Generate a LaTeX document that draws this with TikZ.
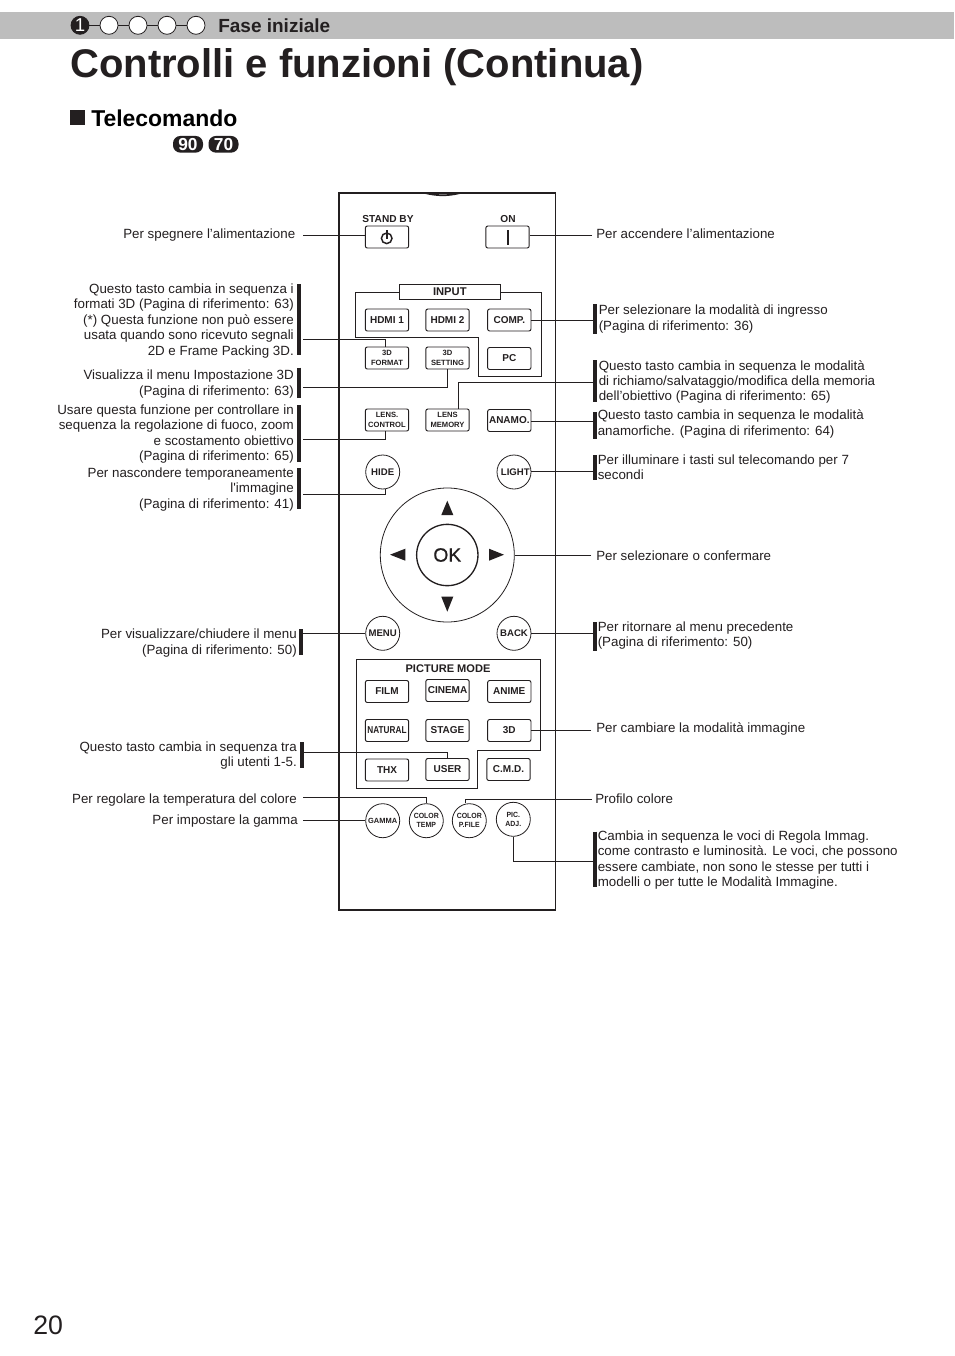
\documentclass[tikz,border=0pt]{standalone}
\usepackage{xcolor}
\usepackage{fontspec}
\setmainfont{Liberation Sans}
\usetikzlibrary{arrows.meta}
\definecolor{jvink}{HTML}{231F20}
\definecolor{jvband}{HTML}{BDBDBD}
\newcommand{\rk}[1]{\makebox[0pt]{#1}}
\newcommand{\rkk}[2]{\makebox[0pt]{\scalebox{.93}[1]{\shortstack{#1\\#2}}}}

\begin{document}
\begin{tikzpicture}[x=0.75pt,y=-0.75pt,
    every node/.style={text=jvink,inner sep=0pt},
    leftnote/.style={anchor=east,align=right,font=\fontsize{10}{11.6}\selectfont},
    rightnote/.style={anchor=west,align=left,font=\fontsize{10}{11.4}\selectfont},
    keybtn/.style={draw=jvink,fill=white,line width=0.7pt,rounded corners=1.5pt,minimum width=32.5pt,minimum height=16.5pt,align=center,font=\fontsize{7.5}{8}\selectfont\bfseries},
    keysmall/.style={keybtn,font=\fontsize{5.7}{7.5}\selectfont\bfseries},
    roundkey/.style={draw=jvink,fill=white,line width=0.6pt,circle,minimum size=25.5pt,font=\fontsize{7.2}{8}\selectfont\bfseries},
    roundsmall/.style={roundkey,font=\fontsize{5.6}{5.8}\selectfont\bfseries},
    stepdot/.style={draw=jvink,fill=white,line width=0.6pt,circle,minimum size=13.5pt},
    pill/.style={fill=jvink,text=white,rounded corners=5.5pt,minimum width=22.5pt,minimum height=12.5pt,font=\fontsize{13}{13}\selectfont\bfseries},
    wire/.style={draw=jvink,line width=0.75pt},
    tagbar/.style={draw=jvink,line width=3pt}]
  \useasboundingbox (0,0) rectangle (954,1356);
  \fill[white] (0,0) rectangle (954,1356);
  % page header
  \fill[jvband] (0,12) rectangle (954,39);
  \draw[wire] (80,25.3) -- (196,25.3);
  \node[stepdot,fill=jvink,text=white,font=\fontsize{14}{14}\selectfont] (st1) at (80,25.3) {1};
  \node[stepdot] (st2) at (109,25.3) {};
  \node[stepdot] (st3) at (138,25.3) {};
  \node[stepdot] (st4) at (167,25.3) {};
  \node[stepdot] (st5) at (196,25.3) {};
  \node[anchor=west,font=\fontsize{14.25}{15}\selectfont\bfseries] (tStep) at (218,25.5) {Fase iniziale};
  \node[anchor=west,font=\fontsize{30}{32}\selectfont\bfseries] (tTitle) at (70,67.5) {Controlli e funzioni (Continua)};
  \fill[jvink] (70,110) rectangle (85,125);
  \node[anchor=west,font=\fontsize{17.2}{20}\selectfont\bfseries,text=black] (tSub) at (91,118) {Telecomando};
  \node[pill] (p90) at (188,144.3) {90};
  \node[pill] (p70) at (223.5,144.3) {70};
  \node[anchor=west,font=\fontsize{20}{22}\selectfont] (tPage) at (33,1325) {20};

  % remote body
  \draw[draw=jvink,line width=1.1pt] (339,193) rectangle (555.5,910);
  \draw[draw=jvink,line width=1.3pt] (425,193) .. controls (438,196) and (448,196) .. (460,193);

  % input group
  \draw[wire] (355.3,292.3) -- (541.3,292.3) -- (541.3,376.3) -- (478.7,376.3) -- (478.7,337.7) -- (355.3,337.7) -- cycle;
  \node[draw=jvink,fill=white,line width=0.75pt,minimum width=76pt,minimum height=11.5pt,font=\fontsize{8.4}{8}\selectfont\bfseries] (inputLbl) at (449.8,292) {INPUT};

  % picture mode group
  \draw[wire] (356.3,659.3) -- (540.3,659.3) -- (540.3,750.7) -- (477.3,750.7) -- (477.3,788) -- (356.3,788) -- cycle;
  \node[font=\fontsize{8.3}{8}\selectfont\bfseries] (pmLbl) at (448,668.5) {PICTURE MODE};

  % keys
  \node[font=\fontsize{7.6}{8}\selectfont\bfseries] (lbStand) at (388,219.5) {STAND BY};
  \node[font=\fontsize{7.6}{8}\selectfont\bfseries] (lbOn) at (508,219.5) {ON};
  \node[keybtn] (standby) at (387,237) {};
  \node[keybtn] (onkey) at (507.5,237) {};
  \draw[draw=jvink,line width=1.1pt] (386.7,238.3) circle (5.3);
  \draw[draw=jvink,line width=1.3pt] (386.7,230) -- (386.7,239);
  \draw[draw=jvink,line width=1.3pt] (507.7,230) -- (507.7,245);
  \node[keybtn] (hdmi1) at (387,320) {HDMI 1};
  \node[keybtn] (hdmi2) at (447.5,320) {HDMI 2};
  \node[keybtn] (comp) at (509.3,320) {COMP.};
  \node[keysmall] (fmt3d) at (387,358) {3D\\FORMAT};
  \node[keysmall] (set3d) at (447.5,358) {3D\\SETTING};
  \node[keybtn] (pc) at (509.3,358.5) {PC};
  \node[keysmall] (lenscon) at (387,420) {LENS.\\CONTROL};
  \node[keysmall] (lensmem) at (447.5,420) {LENS\\MEMORY};
  \node[keybtn] (anamo) at (509.3,420.5) {ANAMO.};
  \node[roundkey] (hide) at (382.7,472) {\rk{HIDE}};
  \node[roundkey] (light) at (514,472) {\kern2pt\rk{LIGHT}};

  % direction pad
  \node[draw=jvink,circle,line width=0.6pt,minimum size=100.5pt] (dpad) at (447.3,555) {};
  \node[draw=jvink,circle,line width=1pt,minimum size=46pt,font=\fontsize{14.5}{15}\selectfont\addfontfeature{FakeBold=0.6}] (okkey) at (447.3,555) {OK};
  \fill[jvink] (447.3,500.7) -- (453.3,515) -- (441.3,515) -- cycle;
  \fill[jvink] (447.3,611.7) -- (453.3,596.7) -- (441.3,596.7) -- cycle;
  \fill[jvink] (390,554.7) -- (405.3,548.7) -- (405.3,560.7) -- cycle;
  \fill[jvink] (504,554.7) -- (489,548.7) -- (489,560.7) -- cycle;

  \node[roundkey] (menu) at (382.7,633.3) {\rk{MENU}};
  \node[roundkey] (back) at (514,633.3) {\rk{BACK}};
  \node[keybtn] (film) at (387,691.5) {FILM};
  \node[keybtn] (cinema) at (447.5,690.5) {CINEMA};
  \node[keybtn] (anime) at (509.3,691.5) {ANIME};
  \node[keybtn] (natural) at (387,730.5) {\scalebox{.82}[1]{NATURAL}};
  \node[keybtn] (stage) at (447.5,730.5) {STAGE};
  \node[keybtn] (key3d) at (509.3,730.5) {3D};
  \node[keybtn] (thx) at (387,770) {THX};
  \node[keybtn] (user) at (447.5,769.5) {USER};
  \node[keybtn] (cmd) at (508.5,769.5) {C.M.D.};
  \node[roundsmall] (gamma) at (382.7,820.7) {\rk{GAMMA}};
  \node[roundsmall] (ctemp) at (426.3,820.7) {\rkk{COLOR}{TEMP}};
  \node[roundsmall] (cprof) at (469.3,820.7) {\rkk{COLOR}{P.FILE}};
  \node[roundsmall] (picadj) at (513.3,819.3) {\rkk{PIC.}{ADJ.}};

  % left notes
  \node[leftnote] (nStand) at (295.5,235.5) {Per spegnere l’alimentazione};
  \node[leftnote] (nFmt) at (294,321) {Questo tasto cambia in sequenza i\\formati 3D (Pagina di riferimento: 63)\\(*) Questa funzione non può essere\\usata quando sono ricevuto segnali\\2D e Frame Packing 3D.};
  \node[leftnote] (nSet) at (294,384) {Visualizza il menu Impostazione 3D\\(Pagina di riferimento: 63)};
  \node[leftnote] (nLens) at (294,434) {Usare questa funzione per controllare in\\sequenza la regolazione di fuoco, zoom\\e scostamento obiettivo\\(Pagina di riferimento: 65)};
  \node[leftnote] (nHide) at (294,489.5) {Per nascondere temporaneamente\\l\textquotesingle immagine\\(Pagina di riferimento: 41)};
  \node[leftnote] (nMenu) at (297,643) {Per visualizzare/chiudere il menu\\(Pagina di riferimento: 50)};
  \node[leftnote] (nUser) at (297,755.5) {Questo tasto cambia in sequenza tra\\gli utenti 1-5.};
  \node[leftnote] (nTemp) at (297,800) {Per regolare la temperatura del colore};
  \node[leftnote] (nGamma) at (298,821) {Per impostare la gamma};

  % right notes
  \node[rightnote] (nOn) at (596,234) {Per accendere l’alimentazione};
  \node[rightnote] (nComp) at (598.5,319) {Per selezionare la modalità di ingresso\\(Pagina di riferimento: 36)};
  \node[rightnote] (nMem) at (598.5,382) {Questo tasto cambia in sequenza le modalità\\di richiamo/salvataggio/modifica della memoria\\dell’obiettivo (Pagina di riferimento: 65)};
  \node[rightnote] (nAnamo) at (597.5,424) {Questo tasto cambia in sequenza le modalità\\anamorfiche. (Pagina di riferimento: 64)};
  \node[rightnote] (nLight) at (597.5,467.5) {Per illuminare i tasti sul telecomando per 7\\secondi};
  \node[rightnote] (nPad) at (596,556) {Per selezionare o confermare};
  \node[rightnote] (nBack) at (597.5,635.5) {Per ritornare al menu precedente\\(Pagina di riferimento: 50)};
  \node[rightnote] (nPic) at (596,728.5) {Per cambiare la modalità immagine};
  \node[rightnote] (nProf) at (595,799) {Profilo colore};
  \node[rightnote] (nAdj) at (597.5,860) {Cambia in sequenza le voci di Regola Immag.\\come contrasto e luminosità. Le voci, che possono\\essere cambiate, non sono le stesse per tutti i\\modelli o per tutte le Modalità Immagine.};

  % bars beside the notes
  \draw[tagbar] (299,284.3) -- (299,355);
  \draw[tagbar] (299,367.7) -- (299,397.7);
  \draw[tagbar] (299,405) -- (299,462.3);
  \draw[tagbar] (299,468.3) -- (299,508.7);
  \draw[tagbar] (301,629) -- (301,654.7);
  \draw[tagbar] (301.5,742.3) -- (301.5,767.7);
  \draw[tagbar] (594.5,304.3) -- (594.5,333.7);
  \draw[tagbar] (594.5,360) -- (594.5,401.7);
  \draw[tagbar] (594.5,412.3) -- (594.5,439);
  \draw[tagbar] (594.5,455) -- (594.5,480);
  \draw[tagbar] (594.5,622) -- (594.5,650.7);
  \draw[tagbar] (594.5,831.7) -- (594.5,886.7);

  % free wire ends
  \coordinate (eStand) at (303,235);
  \coordinate (eFmt) at (303,339.3);
  \coordinate (eSet) at (303,387);
  \coordinate (eLens) at (303,439.3);
  \coordinate (eHide) at (303,494.3);
  \coordinate (eMenu) at (303,633.7);
  \coordinate (eUser) at (303,752.3);
  \coordinate (eTemp) at (303,797.3);
  \coordinate (eGamma) at (303,820);
  \coordinate (eOn) at (592,235);
  \coordinate (eComp) at (593,320);
  \coordinate (eMem) at (593,382);
  \coordinate (eAnamo) at (593,421);
  \coordinate (eLight) at (593,471);
  \coordinate (ePad) at (591,555.3);
  \coordinate (eBack) at (593,633.5);
  \coordinate (ePic) at (591,730);
  \coordinate (eProf) at (592,799);
  \coordinate (eAdj) at (593,861);

  % connectors
  \draw[wire] (eStand) -- (eStand -| standby.west);
  \draw[wire] (eFmt) -| ([xshift=-1.5pt]fmt3d.north);
  \draw[wire] (eSet) -| (set3d.south);
  \draw[wire] (eLens) -| ([xshift=-1pt]lenscon.south);
  \draw[wire] (eHide) -| ([xshift=2pt]hide.south);
  \draw[wire] (eMenu) -- (eMenu -| menu.west);
  \draw[wire] (eUser) -| (user.north);
  \draw[wire] (eTemp) -| (ctemp.north);
  \draw[wire] (eGamma) -- (eGamma -| gamma.west);
  \draw[wire] (eOn) -- (eOn -| onkey.east);
  \draw[wire] (eComp) -- (eComp -| comp.east);
  \draw[wire] (eMem) -| ([xshift=8pt]lensmem.north);
  \draw[wire] (eAnamo) -- (eAnamo -| anamo.east);
  \draw[wire] (eLight) -- (eLight -| light.east);
  \draw[wire] (ePad) -- (ePad -| dpad.east);
  \draw[wire] (eBack) -- (eBack -| back.east);
  \draw[wire] (ePic) -- (ePic -| key3d.east);
  \draw[wire] (eProf) -| ([xshift=-2.5pt]cprof.north);
  \draw[wire] (eAdj) -| (picadj.south);
\end{tikzpicture}
\end{document}
